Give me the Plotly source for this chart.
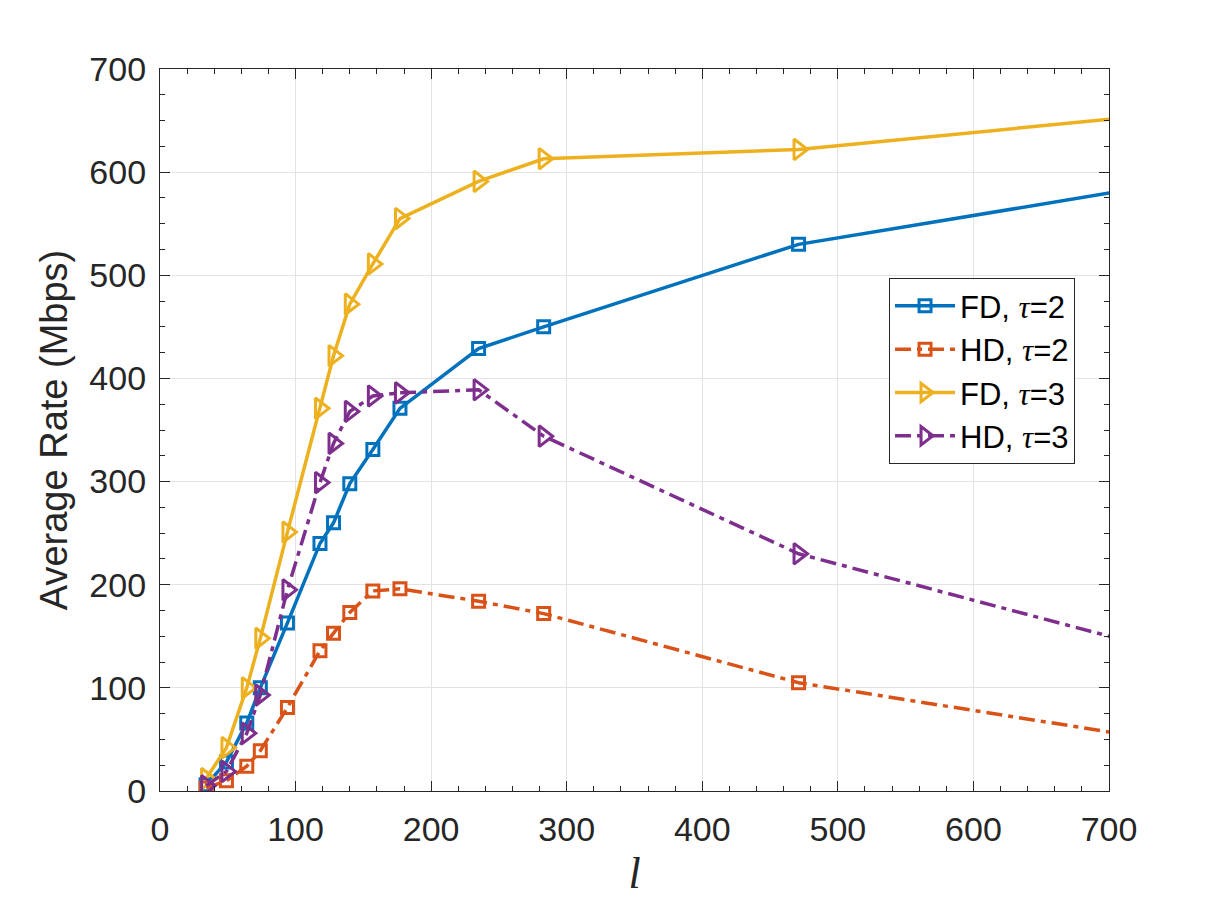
import plotly.graph_objects as go

l_vals = [34, 49, 64, 74, 94, 118, 128, 140, 157, 177, 235, 283, 471, 706]
fd_tau2 = [6, 28, 66, 100, 163, 240, 260, 298, 331, 371, 429, 450, 530, 581]
hd_tau2 = [3, 10, 24, 39, 81, 136, 153, 173, 194, 196, 184, 172, 105, 56]
fd_tau3 = [12, 42, 100, 148, 251, 371, 422, 472, 511, 555, 591, 613, 622, 652]
hd_tau3 = [5, 19, 56, 93, 195, 299, 337, 368, 383, 386, 389, 344, 230, 148]

tau = '<span style="font-family:Liberation Serif;font-style:italic">τ</span>'
names = [f"FD, {tau}=2", f"HD, {tau}=2", f"FD, {tau}=3", f"HD, {tau}=3"]
series = [fd_tau2, hd_tau2, fd_tau3, hd_tau3]
colors = ["#0072BD", "#D95319", "#EDB120", "#7E2F8E"]
dashdot = "16px,6px,5px,6px"
dashes = ["solid", dashdot, "solid", dashdot]
symbols = ["square-open", "square-open", "triangle-right-open", "triangle-right-open"]
msizes = [12, 12, 18, 18]

fig = go.Figure()
for name, ys, c, d, s, ms in zip(names, series, colors, dashes, symbols, msizes):
    fig.add_trace(go.Scatter(
        x=l_vals, y=ys, name=name, mode="lines+markers",
        line=dict(color=c, width=3.5, dash=d),
        marker=dict(symbol=s, size=ms, color=c, line=dict(color=c, width=3)),
        cliponaxis=True,
    ))

axis_common = dict(
    showline=True, linecolor="#262626", linewidth=1.2, mirror="ticks",
    ticks="inside", ticklen=10, tickwidth=1.2, tickcolor="#262626",
    showgrid=True, gridcolor="#E3E3E3", gridwidth=1,
    zeroline=False,
    tickfont=dict(family="Liberation Sans, Arial, sans-serif", size=34, color="#262626"),
)

fig.update_xaxes(
    range=[0, 700], tickmode="linear", tick0=0, dtick=100,
    minor=dict(ticks="inside", ticklen=5, dtick=20, tickcolor="#262626", showgrid=False),
    ticklabelstandoff=8,
    title=dict(text="<i>l</i>", font=dict(family="Liberation Serif, Times New Roman, serif", size=44, color="#262626"), standoff=10),
    **axis_common,
)
fig.update_yaxes(
    range=[0, 700], tickmode="linear", tick0=0, dtick=100,
    minor=dict(ticks="inside", ticklen=5, dtick=25, tickcolor="#262626", showgrid=False),
    ticklabelstandoff=6,
    title=dict(text="Average Rate (Mbps)", font=dict(family="Liberation Sans, Arial, sans-serif", size=38, color="#262626"), standoff=10),
    **axis_common,
)

fig.update_layout(
    width=1225, height=915,
    margin=dict(l=160, r=116, t=69, b=124),
    paper_bgcolor="white", plot_bgcolor="white",
    showlegend=True,
    legend=dict(
        x=0.768, y=0.7105, xanchor="left", yanchor="top",
        bgcolor="white", bordercolor="#262626", borderwidth=1.2,
        font=dict(family="Liberation Sans, Arial, sans-serif", size=31, color="black"),
        itemwidth=60, tracegroupgap=0,
    ),
)

fig.write_html("out.html")
